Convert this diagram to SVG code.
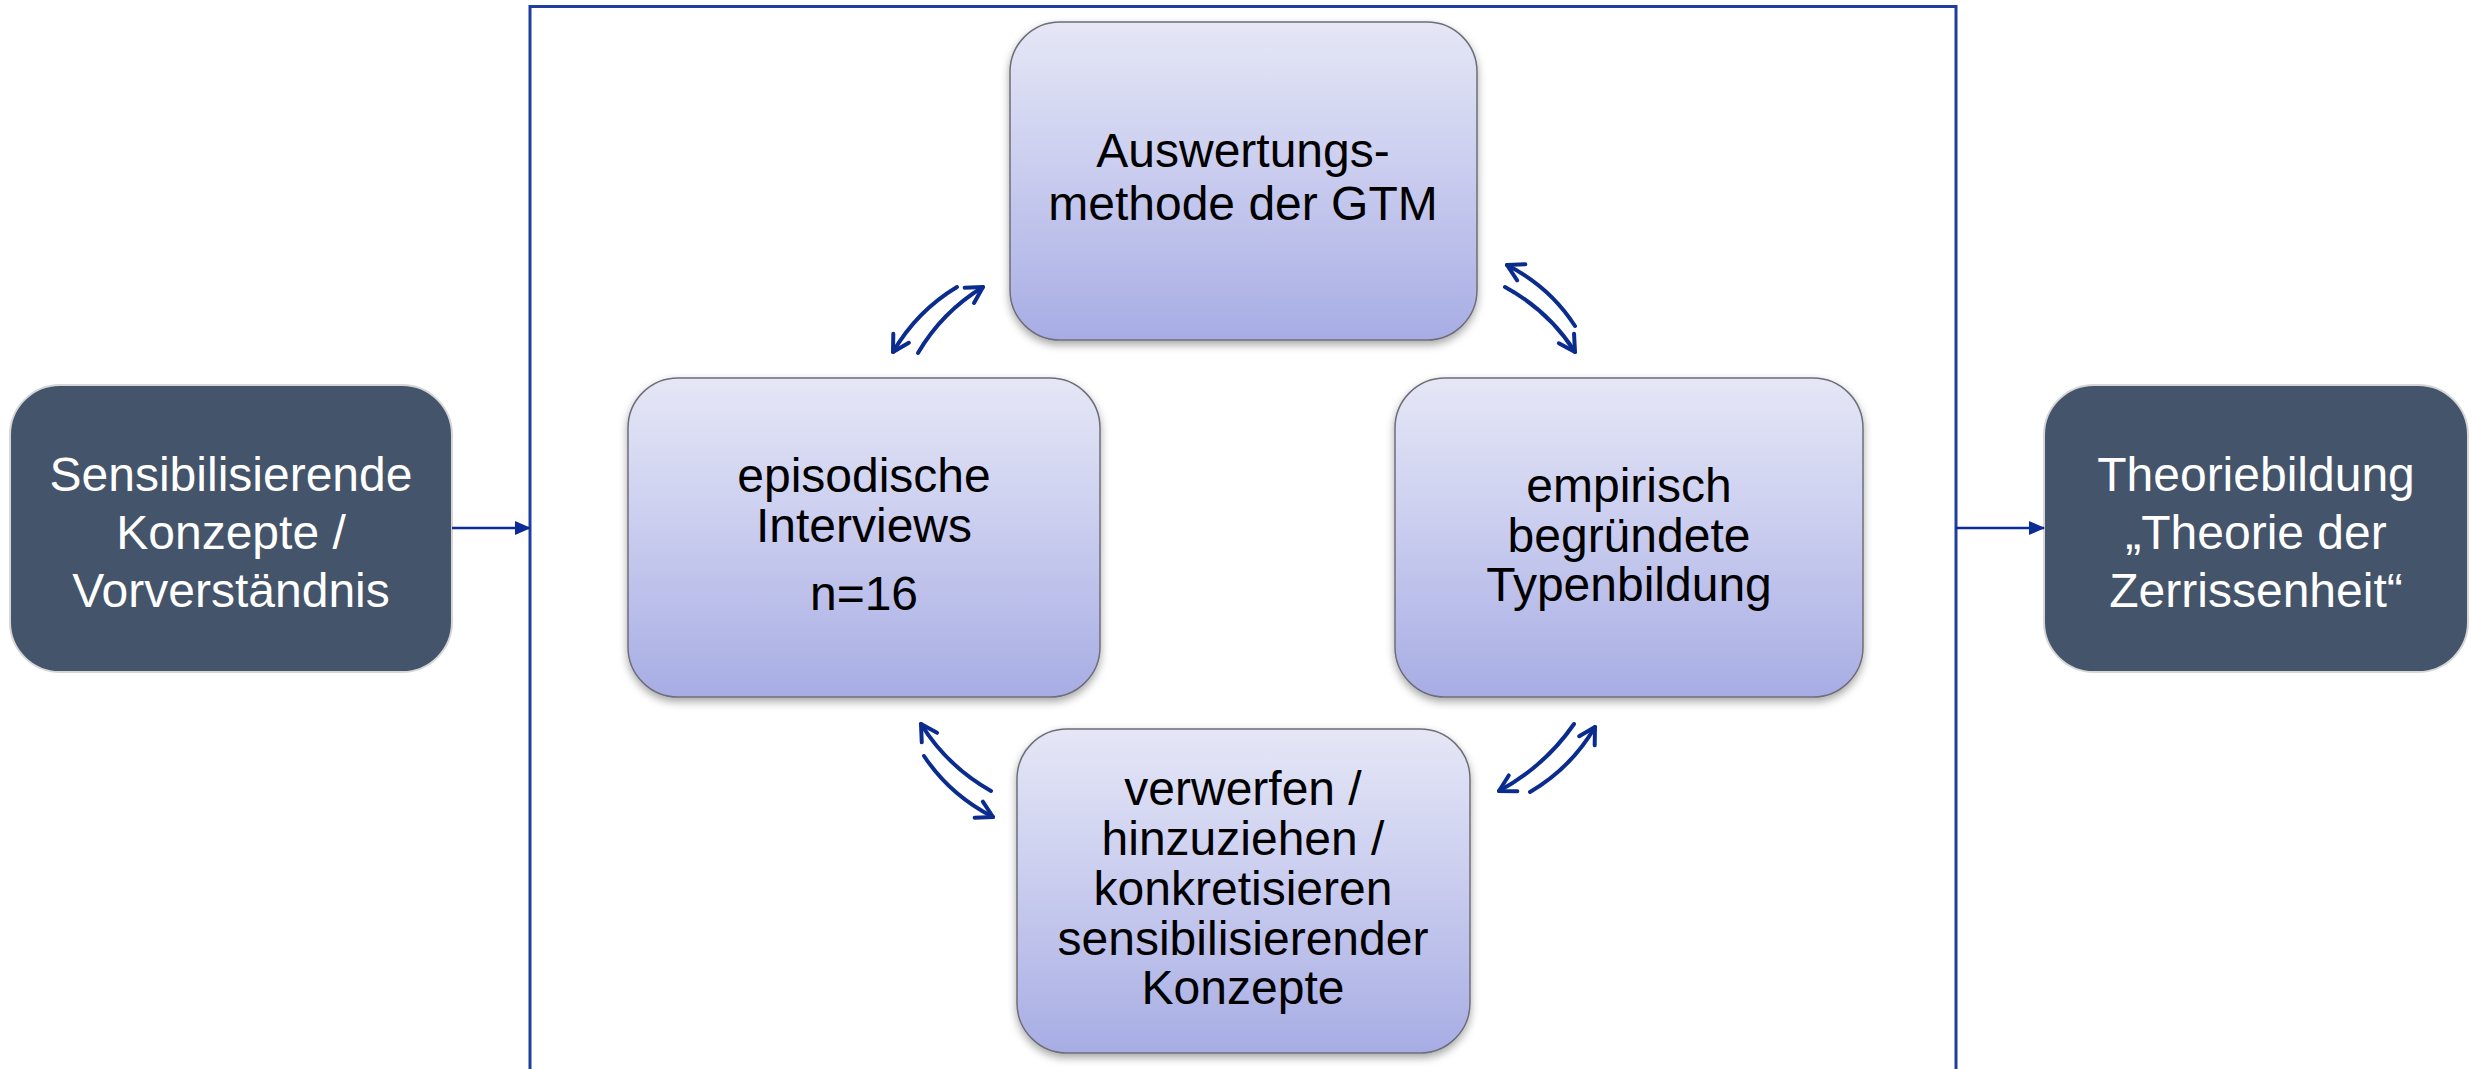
<svg xmlns="http://www.w3.org/2000/svg" width="2473" height="1069" viewBox="0 0 2473 1069">
  <style>
    .dark rect { fill: #44546a; stroke: #d6d6d6; stroke-width: 2; }
    .dark text { fill: #ffffff; font-family: "Liberation Sans", Arial, sans-serif; font-size: 48px; text-anchor: middle; }
    .purple rect { fill: url(#pg); stroke: #6e6e78; stroke-width: 1.5; filter: url(#sh); }
    .purple text { fill: #000000; font-family: "Liberation Sans", Arial, sans-serif; font-size: 48px; text-anchor: middle; }
    .cyc { fill: none; stroke: #0b2c8f; stroke-width: 4; stroke-linecap: round; marker-end: url(#open); }
    .flow { fill: none; stroke: #0b2c96; stroke-width: 2.5; marker-end: url(#solid); }
    .frame { fill: none; stroke: #1f3ea0; stroke-width: 3; }
  </style>
  <defs>
    <linearGradient id="pg" x1="0" y1="0" x2="0" y2="1">
      <stop offset="0" stop-color="#e5e7f6"/>
      <stop offset="0.5" stop-color="#c8cbee"/>
      <stop offset="1" stop-color="#a7ade4"/>
    </linearGradient>
    <filter id="sh" x="-10%" y="-10%" width="120%" height="125%">
      <feDropShadow dx="0" dy="4" stdDeviation="4" flood-color="#000" flood-opacity="0.35"/>
    </filter>
    <marker id="open" viewBox="0 0 24 24" refX="20" refY="12" markerWidth="24" markerHeight="24" markerUnits="userSpaceOnUse" orient="auto">
      <path d="M4,3 L20,12 L4,21" fill="none" stroke="#0b2c8f" stroke-width="4" stroke-linecap="round" stroke-linejoin="round"/>
    </marker>
    <marker id="solid" viewBox="0 0 16 16" refX="15" refY="8" markerWidth="16" markerHeight="16" markerUnits="userSpaceOnUse" orient="auto">
      <path d="M0,1 L16,8 L0,15 Z" fill="#0b2c96"/>
    </marker>
  </defs>

  <g id="frame">
    <path class="frame" d="M530,1072 V6.5 H1956 V1072"/>
  </g>

  <g id="node-sensibilisierende" class="dark">
    <rect x="10" y="385" width="442" height="287" rx="50" ry="50"/>
    <text x="231" y="491">Sensibilisierende</text>
    <text x="231" y="549">Konzepte /</text>
    <text x="231" y="607">Vorverständnis</text>
  </g>

  <g id="node-theoriebildung" class="dark">
    <rect x="2044" y="385" width="424" height="287" rx="50" ry="50"/>
    <text x="2256" y="491">Theoriebildung</text>
    <text x="2256" y="549">„Theorie der</text>
    <text x="2256" y="607">Zerrissenheit“</text>
  </g>

  <g id="node-auswertung" class="purple">
    <rect x="1010" y="22" width="467" height="318" rx="50" ry="50"/>
    <text x="1243" y="167">Auswertungs-</text>
    <text x="1243" y="220">methode der GTM</text>
  </g>

  <g id="node-interviews" class="purple">
    <rect x="628" y="378" width="472" height="319" rx="50" ry="50"/>
    <text x="864" y="492">episodische</text>
    <text x="864" y="542">Interviews</text>
    <text x="864" y="610">n=16</text>
  </g>

  <g id="node-typenbildung" class="purple">
    <rect x="1395" y="378" width="468" height="319" rx="50" ry="50"/>
    <text x="1629" y="502">empirisch</text>
    <text x="1629" y="552">begründete</text>
    <text x="1629" y="601">Typenbildung</text>
  </g>

  <g id="node-konzepte" class="purple">
    <rect x="1017" y="729" width="453" height="324" rx="50" ry="50"/>
    <text x="1243" y="805">verwerfen /</text>
    <text x="1243" y="855">hinzuziehen /</text>
    <text x="1243" y="905">konkretisieren</text>
    <text x="1243" y="955">sensibilisierender</text>
    <text x="1243" y="1004">Konzepte</text>
  </g>

  <g id="connectors">
    <path class="flow" d="M452,528 H530"/>
    <path class="flow" d="M1956,528 H2044"/>

    <path class="cyc" d="M957,287 Q917,311 893,352"/>
    <path class="cyc" d="M918,353 Q942,312 983,287"/>

    <path class="cyc" d="M1575,326 Q1550,287 1507,265"/>
    <path class="cyc" d="M1505,287 Q1549,311 1575,352"/>

    <path class="cyc" d="M991,791 Q947,766 921,724"/>
    <path class="cyc" d="M924,756 Q950,795 993,817"/>

    <path class="cyc" d="M1574,724 Q1545,766 1499,791"/>
    <path class="cyc" d="M1530,792 Q1571,768 1595,727"/>
  </g>
</svg>
